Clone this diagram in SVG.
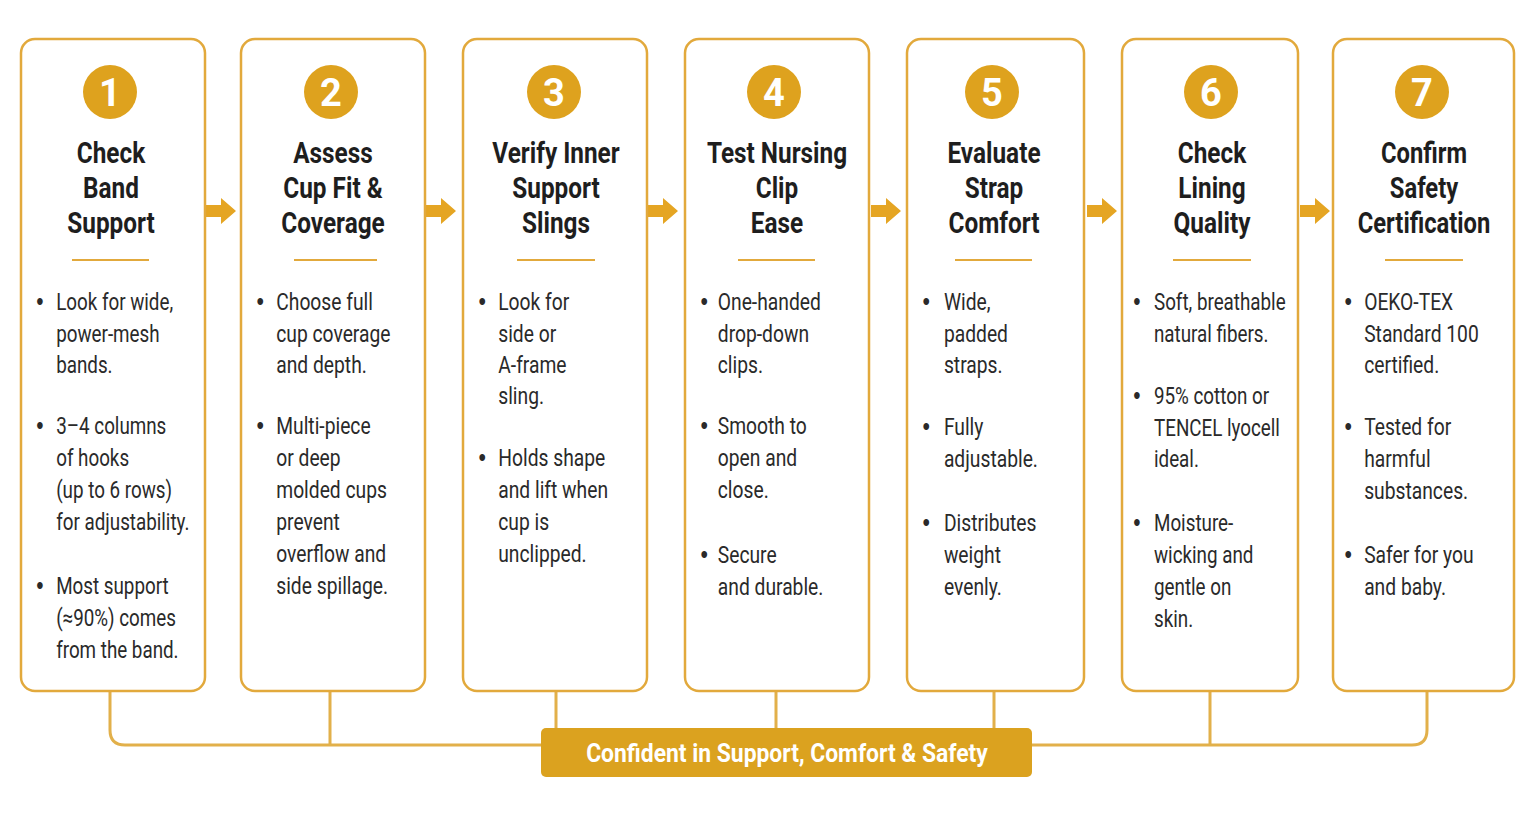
<svg xmlns="http://www.w3.org/2000/svg" width="1535" height="815" viewBox="0 0 1535 815">
<style>
.card{fill:#fff;stroke:#E2A93C;stroke-width:2.5}
.num{fill:#DEA21E}
.nt{font-family:Roboto,"Liberation Sans",sans-serif;font-weight:bold;font-size:38px;fill:#fff;text-anchor:middle}
.tt{font-family:Roboto,"Liberation Sans",sans-serif;font-weight:bold;font-size:29px;fill:#1e1e1e;text-anchor:middle}
.bt{font-family:Roboto,"Liberation Sans",sans-serif;font-size:23.5px;fill:#2a2a2a}
.bu{font-family:"Liberation Sans",sans-serif;font-size:26px;fill:#2a2a2a}
.div{stroke:#E2A93C;stroke-width:2}
.arr{fill:#E5A523}
.con{fill:none;stroke:#E2B04A;stroke-width:3}
</style>
<rect width="1535" height="815" fill="#fff"/>
<g id="connectors">
<path class="con" d="M110 691V730Q110 745 125 745H1412Q1427 745 1427 730V691"/>
<path class="con" d="M330 691V745M556 691V745M776 691V745M994 691V745M1210 691V745"/>
<polygon class="arr" points="206,205 221,205 221,198 236,211 221,224 221,217 206,217"/>
<polygon class="arr" points="426,205 441,205 441,198 456,211 441,224 441,217 426,217"/>
<polygon class="arr" points="648,205 663,205 663,198 678,211 663,224 663,217 648,217"/>
<polygon class="arr" points="871,205 886,205 886,198 901,211 886,224 886,217 871,217"/>
<polygon class="arr" points="1087,205 1102,205 1102,198 1117,211 1102,224 1102,217 1087,217"/>
<polygon class="arr" points="1300,205 1315,205 1315,198 1330,211 1315,224 1315,217 1300,217"/>
</g>
<g id="node1">
<rect class="card" x="21" y="39" width="184" height="652" rx="14"/>
<circle class="num" cx="110" cy="92" r="27"/><text class="nt" x="110" y="106">1</text>
<g transform="translate(111,0) scale(0.84,1)"><text class="tt" x="0" y="163">Check</text><text class="tt" x="0" y="198">Band</text><text class="tt" x="0" y="233">Support</text></g>
<line class="div" x1="72" y1="260" x2="149" y2="260"/>
<g transform="translate(21,0) scale(0.8,1)" class="bt">
<text class="bu" x="19" y="310">•</text><text x="44" y="310">Look for wide,</text><text x="44" y="342">power-mesh</text><text x="44" y="373">bands.</text>
<text class="bu" x="19" y="434">•</text><text x="44" y="434">3–4 columns</text><text x="44" y="466">of hooks</text><text x="44" y="498">(up to 6 rows)</text><text x="44" y="530">for adjustability.</text>
<text class="bu" x="19" y="594">•</text><text x="44" y="594">Most support</text><text x="44" y="626">(≈90%) comes</text><text x="44" y="658">from the band.</text>
</g>
</g>
<g id="node2">
<rect class="card" x="241" y="39" width="184" height="652" rx="14"/>
<circle class="num" cx="331" cy="92" r="27"/><text class="nt" x="331" y="106">2</text>
<g transform="translate(333,0) scale(0.84,1)"><text class="tt" x="0" y="163">Assess</text><text class="tt" x="0" y="198">Cup Fit &amp;</text><text class="tt" x="0" y="233">Coverage</text></g>
<line class="div" x1="294" y1="260" x2="377" y2="260"/>
<g transform="translate(241,0) scale(0.82,1)" class="bt">
<text class="bu" x="19" y="310">•</text><text x="43" y="310">Choose full</text><text x="43" y="342">cup coverage</text><text x="43" y="373">and depth.</text>
<text class="bu" x="19" y="434">•</text><text x="43" y="434">Multi-piece</text><text x="43" y="466">or deep</text><text x="43" y="498">molded cups</text><text x="43" y="530">prevent</text><text x="43" y="562">overflow and</text><text x="43" y="594">side spillage.</text>
</g>
</g>
<g id="node3">
<rect class="card" x="463" y="39" width="184" height="652" rx="14"/>
<circle class="num" cx="554" cy="92" r="27"/><text class="nt" x="554" y="106">3</text>
<g transform="translate(556,0) scale(0.84,1)"><text class="tt" x="0" y="163">Verify Inner</text><text class="tt" x="0" y="198">Support</text><text class="tt" x="0" y="233">Slings</text></g>
<line class="div" x1="517" y1="260" x2="595" y2="260"/>
<g transform="translate(463,0) scale(0.82,1)" class="bt">
<text class="bu" x="19" y="310">•</text><text x="43" y="310">Look for</text><text x="43" y="342">side or</text><text x="43" y="373">A-frame</text><text x="43" y="404">sling.</text>
<text class="bu" x="19" y="466">•</text><text x="43" y="466">Holds shape</text><text x="43" y="498">and lift when</text><text x="43" y="530">cup is</text><text x="43" y="562">unclipped.</text>
</g>
</g>
<g id="node4">
<rect class="card" x="685" y="39" width="184" height="652" rx="14"/>
<circle class="num" cx="774" cy="92" r="27"/><text class="nt" x="774" y="106">4</text>
<g transform="translate(777,0) scale(0.84,1)"><text class="tt" x="0" y="163">Test Nursing</text><text class="tt" x="0" y="198">Clip</text><text class="tt" x="0" y="233">Ease</text></g>
<line class="div" x1="738" y1="260" x2="815" y2="260"/>
<g transform="translate(685,0) scale(0.82,1)" class="bt">
<text class="bu" x="19" y="310">•</text><text x="40" y="310">One-handed</text><text x="40" y="342">drop-down</text><text x="40" y="373">clips.</text>
<text class="bu" x="19" y="434">•</text><text x="40" y="434">Smooth to</text><text x="40" y="466">open and</text><text x="40" y="498">close.</text>
<text class="bu" x="19" y="563">•</text><text x="40" y="563">Secure</text><text x="40" y="595">and durable.</text>
</g>
</g>
<g id="node5">
<rect class="card" x="907" y="39" width="177" height="652" rx="14"/>
<circle class="num" cx="992" cy="92" r="27"/><text class="nt" x="992" y="106">5</text>
<g transform="translate(994,0) scale(0.84,1)"><text class="tt" x="0" y="163">Evaluate</text><text class="tt" x="0" y="198">Strap</text><text class="tt" x="0" y="233">Comfort</text></g>
<line class="div" x1="955" y1="260" x2="1032" y2="260"/>
<g transform="translate(907,0) scale(0.82,1)" class="bt">
<text class="bu" x="19" y="310">•</text><text x="45" y="310">Wide,</text><text x="45" y="342">padded</text><text x="45" y="373">straps.</text>
<text class="bu" x="19" y="435">•</text><text x="45" y="435">Fully</text><text x="45" y="467">adjustable.</text>
<text class="bu" x="19" y="531">•</text><text x="45" y="531">Distributes</text><text x="45" y="563">weight</text><text x="45" y="595">evenly.</text>
</g>
</g>
<g id="node6">
<rect class="card" x="1122" y="39" width="176" height="652" rx="14"/>
<circle class="num" cx="1211" cy="92" r="27"/><text class="nt" x="1211" y="106">6</text>
<g transform="translate(1212,0) scale(0.84,1)"><text class="tt" x="0" y="163">Check</text><text class="tt" x="0" y="198">Lining</text><text class="tt" x="0" y="233">Quality</text></g>
<line class="div" x1="1173" y1="260" x2="1251" y2="260"/>
<g transform="translate(1122,0) scale(0.8,1)" class="bt">
<text class="bu" x="14" y="310">•</text><text x="40" y="310">Soft, breathable</text><text x="40" y="342">natural fibers.</text>
<text class="bu" x="14" y="404">•</text><text x="40" y="404">95% cotton or</text><text x="40" y="436">TENCEL lyocell</text><text x="40" y="467">ideal.</text>
<text class="bu" x="14" y="531">•</text><text x="40" y="531">Moisture-</text><text x="40" y="563">wicking and</text><text x="40" y="595">gentle on</text><text x="40" y="627">skin.</text>
</g>
</g>
<g id="node7">
<rect class="card" x="1333" y="39" width="181" height="652" rx="14"/>
<circle class="num" cx="1422" cy="92" r="27"/><text class="nt" x="1422" y="106">7</text>
<g transform="translate(1424,0) scale(0.82,1)"><text class="tt" x="0" y="163">Confirm</text><text class="tt" x="0" y="198">Safety</text><text class="tt" x="0" y="233">Certification</text></g>
<line class="div" x1="1385" y1="260" x2="1463" y2="260"/>
<g transform="translate(1333,0) scale(0.82,1)" class="bt">
<text class="bu" x="14" y="310">•</text><text x="38" y="310">OEKO-TEX</text><text x="38" y="342">Standard 100</text><text x="38" y="373">certified.</text>
<text class="bu" x="14" y="435">•</text><text x="38" y="435">Tested for</text><text x="38" y="467">harmful</text><text x="38" y="499">substances.</text>
<text class="bu" x="14" y="563">•</text><text x="38" y="563">Safer for you</text><text x="38" y="595">and baby.</text>
</g>
</g>
<g id="result">
<rect x="541" y="728" width="491" height="49" rx="5" fill="#DBA21F"/>
<g transform="translate(787,0) scale(0.88,1)"><text x="0" y="762" text-anchor="middle" font-family="Roboto,'Liberation Sans',sans-serif" font-weight="bold" font-size="26" fill="#fff">Confident in Support, Comfort &amp; Safety</text></g>
</g>
</svg>
